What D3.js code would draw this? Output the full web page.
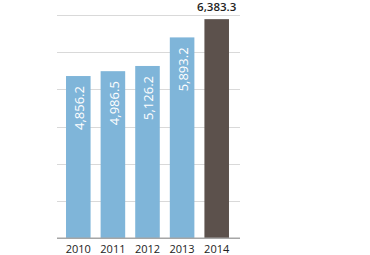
<!DOCTYPE html>
<html>
<head>
<meta charset="utf-8">
<script src="https://cdn.jsdelivr.net/npm/d3@7"></script>
<style>
  html, body { margin: 0; padding: 0; background: #fff; }
  svg { display: block; font-family: "Open Sans", sans-serif; }
</style>
</head>
<body>
<svg id="chart" width="370" height="255"></svg>
<script>
// values
const years = ["2010", "2011", "2012", "2013", "2014"];
const values = [4856.2, 4986.5, 5126.2, 5893.2, 6383.3];
const gridTicks = [1500, 2500, 3500, 4500, 5500, 6500];

const blue = "#7fb5d9";
const brown = "#5c514c";

const svg = d3.select("#chart");

const x = d3.scaleBand()
    .domain(years)
    .range([61, 234])
    .paddingInner(0.29)
    .paddingOuter(0.145);

const y = d3.scaleLinear()
    .domain([500, 6500])
    .range([238.3, 14.8]);

const fmt = d3.format(",.1f");

// grid
svg.append("g")
    .selectAll("line")
    .data(gridTicks)
    .join("line")
    .attr("x1", 57)
    .attr("x2", 240)
    .attr("y1", d => Math.round(y(d)) + 0.5)
    .attr("y2", d => Math.round(y(d)) + 0.5)
    .style("stroke", "#d9d9d9")
    .style("stroke-width", 1);

// bars
svg.append("g")
    .selectAll("rect")
    .data(values)
    .join("rect")
    .attr("x", (d, i) => x(years[i]))
    .attr("width", x.bandwidth())
    .attr("y", d => y(d))
    .attr("height", d => y.range()[0] - y(d))
    .style("fill", (d, i) => i === values.length - 1 ? brown : blue);

// baseline
svg.append("line")
    .attr("x1", 57)
    .attr("x2", 240)
    .attr("y1", y.range()[0])
    .attr("y2", y.range()[0])
    .style("stroke", "#a6a6a6")
    .style("stroke-width", 1.6);

// labels inside bars
svg.append("g")
    .selectAll("text")
    .data(values.slice(0, -1))
    .join("text")
    .attr("transform", (d, i) => `translate(${x(years[i]) + x.bandwidth() / 2},${y(d) + 10}) rotate(-90)`)
    .attr("dy", "0.45em")
    .attr("text-anchor", "end")
    .style("fill", "#fff")
    .style("font-size", "13px")
    .text(d => fmt(d));

// label above last bar
const last = values.length - 1;
svg.append("text")
    .attr("x", x(years[last]) + x.bandwidth() / 2)
    .attr("y", 11.2)
    .attr("text-anchor", "middle")
    .style("fill", "#222")
    .style("font-size", "11.5px")
    .style("font-weight", 600)
    .text(fmt(values[last]));

// x axis labels
svg.append("g")
    .selectAll("text")
    .data(years)
    .join("text")
    .attr("x", d => x(d) + x.bandwidth() / 2)
    .attr("y", 253.3)
    .attr("text-anchor", "middle")
    .style("fill", "#222")
    .style("font-size", "11px")
    .text(d => d);
</script>
</body>
</html>
